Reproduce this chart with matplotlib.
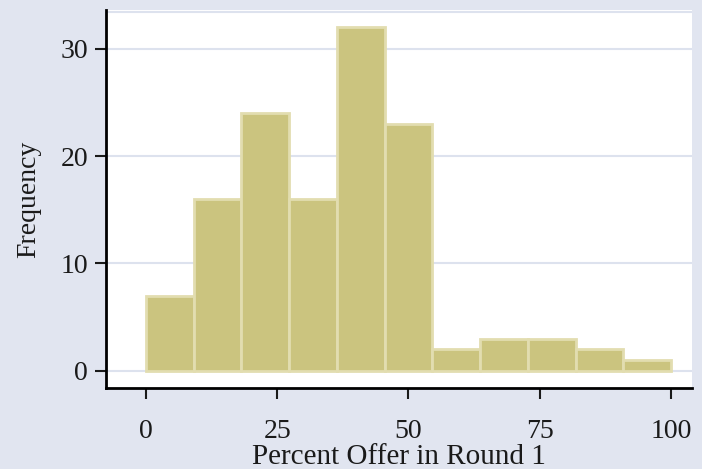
import matplotlib
matplotlib.use("Agg")
import matplotlib.pyplot as plt
import numpy as np

# histogram: 11 bins over 0-100
counts = [7, 16, 24, 16, 32, 23, 2, 3, 3, 2, 1]
bin_lo = 0
bin_hi = 100
x_ticks = [0, 25, 50, 75, 100]
y_ticks = [0, 10, 20, 30]

edges = np.linspace(bin_lo, bin_hi, len(counts) + 1)

plt.rcParams['font.family'] = ['Liberation Serif', 'DejaVu Serif']

bg = '#e1e5f0'
fig = plt.figure(figsize=(7.02, 4.69), dpi=100, facecolor=bg)
ax = fig.add_axes([106 / 702, 1 - 388 / 469, (692 - 106) / 702, (388 - 10) / 469])
ax.set_facecolor('white')

for y in y_ticks:
    ax.axhline(y, color='#dde2ee', lw=1.5, zorder=0)
ax.axhline(33.4, color='#dde2ee', lw=1.5, zorder=0)

ax.hist(edges[:-1], bins=edges, weights=counts, color='#cbc47f',
        edgecolor='#e2ddb0', linewidth=2, zorder=2)

ax.set_xlim(-7.6, 104)
ax.set_ylim(-1.6, 33.6)
ax.set_xticks(x_ticks)
ax.set_yticks(y_ticks)

for s in ['top', 'right']:
    ax.spines[s].set_visible(False)
for s in ['left', 'bottom']:
    ax.spines[s].set_linewidth(2)
    ax.spines[s].set_color('black')

ax.tick_params(axis='both', direction='out', length=8, width=1.5,
               labelsize=20, colors='#1a1a1a')
ax.tick_params(axis='x', pad=14)
ax.tick_params(axis='y', pad=5)

ax.set_xlabel('Percent Offer in Round 1', fontsize=21, labelpad=0, color='#1a1a1a')
ax.set_ylabel('Frequency', fontsize=20, labelpad=14, color='#1a1a1a')

fig.savefig('out.png', dpi=100, facecolor=bg)
